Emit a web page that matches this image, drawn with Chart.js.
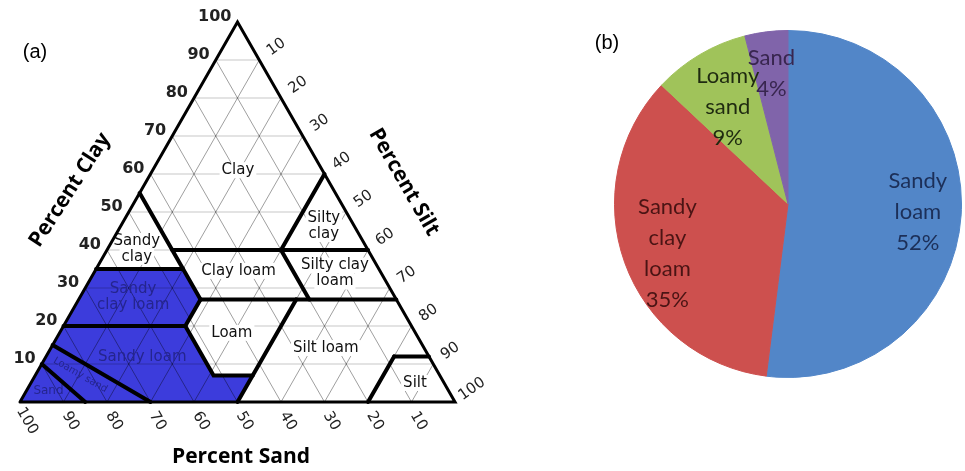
<!DOCTYPE html>
<html>
<head>
<meta charset="utf-8">
<script src="https://cdn.jsdelivr.net/npm/chart.js@4/dist/chart.umd.min.js"></script>
<style>
  body { margin: 0; background: #fff; }
  #wrap { position: relative; width: 965px; height: 471px; }
  #triangleChart { position: absolute; left: 0; top: 0; }
  #pieChart { position: absolute; left: 500px; top: 0; }
</style>
</head>
<body>
<div id="wrap">
  <canvas id="triangleChart" width="500" height="471"></canvas>
  <canvas id="pieChart" width="465" height="471"></canvas>
</div>
<script>
// --- (a) texture triangle data, all in percent ---
const tickValues = [10, 20, 30, 40, 50, 60, 70, 80, 90, 100];
const gridLevels = [10, 20, 30, 40, 50, 60, 70, 80, 90];

// class boundaries as [sand, clay] points
const boundaryLines = [
  [[45, 55], [45, 27]],
  [[65, 35], [45, 35]],
  [[45, 40], [0, 40]],
  [[0, 60], [20, 40]],
  [[20, 40], [20, 27]],
  [[45, 27], [0, 27]],
  [[45, 27], [52, 20]],
  [[80, 20], [52, 20]],
  [[52, 20], [52, 7], [43, 7]],
  [[23, 27], [50, 0]],
  [[8, 12], [0, 12]],
  [[8, 12], [20, 0]],
  [[85, 15], [70, 0]],
  [[90, 10], [85, 0]]
];
// sand + loamy sand + sandy loam + sandy clay loam (shaded)
const shadedArea = [[100, 0], [65, 35], [45, 35], [45, 27], [52, 20], [52, 7], [43, 7], [50, 0], [100, 0]];
const outline = [[100, 0], [0, 0], [0, 100], [100, 0]];

const regionNames = ['Clay', 'Silty\nclay', 'Sandy\nclay', 'Clay loam', 'Silty clay\nloam',
  'Sandy\nclay loam', 'Loam', 'Silt loam', 'Sandy loam', 'Loamy sand', 'Sand', 'Silt'];
const shadedRegions = ['Sandy\nclay loam', 'Sandy loam', 'Loamy sand', 'Sand'];

// --- (b) pie data ---
const soilClasses = ['Sandy loam', 'Sandy clay loam', 'Loamy sand', 'Sand'];
const classShares = [52, 35, 9, 4];

// sand/clay -> plot coords (x runs along the base, y is clay)
function toXY(p) {
  return { x: 100 - p[0] - p[1] / 2, y: p[1] };
}

function lineSet(points, color, width, order) {
  return {
    data: points.map(toXY),
    showLine: true,
    borderColor: color,
    borderWidth: width,
    pointRadius: 0,
    fill: false,
    clip: false,
    order: order,
    borderCapStyle: 'round',
    borderJoinStyle: 'miter'
  };
}

const datasets = [];
datasets.push(Object.assign(lineSet(shadedArea, '#3c3cdc', 0, 5), {
  backgroundColor: '#3c3cdc',
  fill: 'shape'
}));
gridLevels.forEach(v => {
  datasets.push(lineSet([[100 - v, v], [0, v]], 'rgba(0,0,0,0.22)', 1, 4));
  datasets.push(lineSet([[v, 0], [v, 100 - v]], 'rgba(0,0,0,0.38)', 1, 4));
  datasets.push(lineSet([[100 - v, 0], [0, 100 - v]], 'rgba(0,0,0,0.38)', 1, 4));
});
boundaryLines.forEach(l => datasets.push(Object.assign(lineSet(l, '#000', 4, 2), { boundary: true })));
datasets.push(lineSet(outline, '#000', 3, 1));

let labelsDone = false;
const ternaryText = {
  id: 'ternaryText',
  beforeDraw() { labelsDone = false; },
  beforeDatasetDraw(chart, args, opts) {
    // class names go on top of the grid but under the thick boundaries
    if (labelsDone || !chart.data.datasets[args.index].boundary) return;
    labelsDone = true;
    const { ctx, scales: { x, y } } = chart;
    ctx.save();
    regionNames.forEach((name, i) => {
      const a = opts.anchors[i];
      const cx = x.getPixelForValue(100 - a[0] - a[1] / 2);
      const cy = y.getPixelForValue(a[1]);
      const shaded = shadedRegions.includes(name);
      const lines = name.split('\n');
      const size = name === 'Loamy sand' ? 10 : (name === 'Sand' ? 12 : 15);
      ctx.save();
      ctx.translate(cx, cy);
      if (name === 'Loamy sand') ctx.rotate(30 * Math.PI / 180);
      ctx.font = size + 'px "DejaVu Sans"';
      ctx.textAlign = 'center';
      ctx.textBaseline = 'middle';
      const lh = size + 1;
      lines.forEach((ln, j) => {
        const ly = (j - (lines.length - 1) / 2) * lh;
        if (!shaded) {
          const w = ctx.measureText(ln).width;
          ctx.fillStyle = '#fff';
          ctx.fillRect(-w / 2 - 2, ly - lh / 2, w + 4, lh);
        }
        ctx.fillStyle = shaded ? '#25258e' : '#111';
        ctx.fillText(ln, 0, ly);
      });
      ctx.restore();
    });
    ctx.restore();
  },
  afterDatasetsDraw(chart) {
    const { ctx, scales: { x, y } } = chart;
    const px = (s, c) => [x.getPixelForValue(100 - s - c / 2), y.getPixelForValue(c)];
    ctx.save();
    ctx.fillStyle = '#222';
    ctx.textBaseline = 'middle';

    // clay, left side
    ctx.font = 'bold 16px "DejaVu Sans"';
    ctx.textAlign = 'right';
    tickValues.forEach(v => {
      const [tx, ty] = px(100 - v, v);
      ctx.fillText(String(v), tx - 6, ty - 5);
    });

    // silt, right side
    ctx.font = '15px "DejaVu Sans"';
    ctx.textAlign = 'center';
    tickValues.forEach(v => {
      const [tx, ty] = px(0, 100 - v);
      ctx.save();
      ctx.translate(tx + 17, ty - 13);
      ctx.rotate(-35 * Math.PI / 180);
      ctx.fillText(String(v), 0, 0);
      ctx.restore();
    });

    // sand, base
    tickValues.forEach(v => {
      const [tx, ty] = px(v, 0);
      ctx.save();
      ctx.translate(tx + 7, ty + 19);
      ctx.rotate(60 * Math.PI / 180);
      ctx.fillText(String(v), 0, 0);
      ctx.restore();
    });

    // axis titles
    ctx.fillStyle = '#000';
    ctx.font = 'bold 21px "Open Sans"';
    ctx.save();
    ctx.translate(70, 190);
    ctx.rotate(-57 * Math.PI / 180);
    ctx.fillText('Percent Clay', 0, 0);
    ctx.restore();
    ctx.save();
    ctx.translate(404, 182);
    ctx.rotate(60 * Math.PI / 180);
    ctx.fillText('Percent Silt', 0, 0);
    ctx.restore();
    ctx.fillText('Percent Sand', 241, 457);

    ctx.font = '20px "Liberation Sans"';
    ctx.fillText('(a)', 35, 52);
    ctx.restore();
  }
};

new Chart(document.getElementById('triangleChart'), {
  type: 'scatter',
  data: { datasets: datasets },
  options: {
    responsive: false,
    animation: false,
    layout: { padding: { left: 20, right: 45, top: 22, bottom: 69 } },
    scales: {
      x: { type: 'linear', min: 0, max: 100, display: false },
      y: { type: 'linear', min: 0, max: 100, display: false }
    },
    plugins: {
      legend: { display: false },
      tooltip: { enabled: false },
      ternaryText: {
        // [sand, clay] spot where each class name sits
        anchors: [[19.4, 61], [7, 46.3], [53, 40.3], [32.5, 34.5], [10.7, 33.8],
          [60.2, 27.6], [42.2, 18.2], [22.6, 14.2], [66, 11.8], [82.6, 7.1], [92, 2.9], [6.7, 5]]
      }
    }
  },
  plugins: [ternaryText]
});

// --- (b) pie ---
const sliceLabels = {
  id: 'sliceLabels',
  afterDatasetsDraw(chart, args, opts) {
    const { ctx } = chart;
    const meta = chart.getDatasetMeta(0);
    ctx.save();
    ctx.font = '22px Lato';
    ctx.textAlign = 'center';
    ctx.textBaseline = 'middle';
    meta.data.forEach((arc, i) => {
      const mid = (arc.startAngle + arc.endAngle) / 2 + opts.shift[i];
      const r = arc.outerRadius * opts.radius[i];
      const cx = arc.x + Math.cos(mid) * r;
      const cy = arc.y + Math.sin(mid) * r;
      const lines = soilClasses[i].split(' ').concat(classShares[i] + '%');
      ctx.fillStyle = opts.colors[i];
      lines.forEach((ln, j) => {
        ctx.fillText(ln, cx, cy + (j - (lines.length - 1) / 2) * 31);
      });
    });
    ctx.fillStyle = '#000';
    ctx.font = '20px "Liberation Sans"';
    ctx.fillText('(b)', 107, 43);
    ctx.restore();
  }
};

const sliceColors = ['#5286c8', '#cd504e', '#a0c35a', '#8064aa'];
new Chart(document.getElementById('pieChart'), {
  type: 'pie',
  data: {
    labels: soilClasses,
    datasets: [{
      data: classShares,
      backgroundColor: sliceColors,
      borderColor: sliceColors,
      borderWidth: 1
    }]
  },
  options: {
    responsive: false,
    animation: false,
    layout: { padding: { left: 114, right: 3, top: 30, bottom: 93 } },
    plugins: {
      legend: { display: false },
      tooltip: { enabled: false },
      sliceLabels: {
        radius: [0.75, 0.75, 0.66, 0.76],
        shift: [0, -0.04, -0.02, 0],
        colors: ['#1c2f58', '#4a1414', '#1f2a10', '#38264f']
      }
    }
  },
  plugins: [sliceLabels]
});
</script>
</body>
</html>
